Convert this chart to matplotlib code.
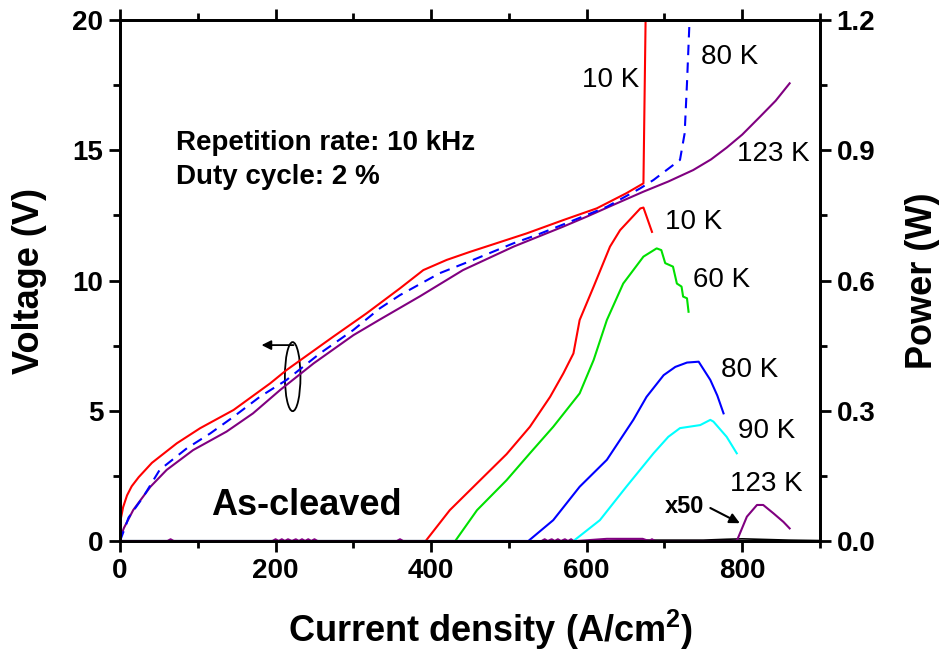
import matplotlib.pyplot as plt
from matplotlib.patches import Ellipse
from matplotlib.ticker import MultipleLocator, FormatStrFormatter

plt.rcParams['font.family'] = ['Liberation Sans', 'DejaVu Sans']
plt.rcParams['mathtext.fontset'] = 'custom'
plt.rcParams['mathtext.bf'] = 'Liberation Sans:bold'

# voltage vs current density (left axis)
v10_j = [0, 4, 9, 15, 24, 41, 73, 103, 146, 193, 214, 274, 317, 360, 390, 420, 450, 484, 523, 570, 613, 651, 673, 676]
v10_v = [0.7, 1.3, 1.75, 2.1, 2.45, 3.0, 3.75, 4.33, 5.03, 6.05, 6.56, 7.84, 8.74, 9.70, 10.4, 10.79, 11.1, 11.43, 11.81, 12.32, 12.77, 13.35, 13.73, 20.5]

v80_j = [0, 5, 11, 30, 51, 86, 116, 146, 180, 214, 257, 300, 334, 360, 411, 454, 506, 536, 574, 626, 669, 686, 720, 726, 729, 733]
v80_v = [0.0, 0.4, 0.9, 1.7, 2.73, 3.56, 4.13, 4.77, 5.54, 6.18, 7.2, 8.1, 8.93, 9.44, 10.28, 10.79, 11.43, 11.75, 12.2, 12.83, 13.54, 13.86, 14.63, 15.65, 17.57, 20.5]

v123_j = [0, 5, 17, 39, 60, 94, 137, 171, 206, 249, 300, 334, 360, 386, 441, 506, 570, 600, 634, 673, 705, 737, 760, 780, 800, 823, 843, 861]
v123_v = [0.1, 0.5, 1.19, 2.08, 2.73, 3.49, 4.2, 4.9, 5.8, 6.82, 7.9, 8.5, 8.95, 9.4, 10.4, 11.3, 12.07, 12.45, 12.9, 13.41, 13.8, 14.24, 14.65, 15.1, 15.6, 16.29, 16.9, 17.57]

# output power vs current density (right axis)
p10_j = [0, 393, 424, 463, 497, 527, 553, 570, 583, 591, 609, 630, 643, 669, 673, 684]
p10_p = [0, 0, 0.071, 0.14, 0.20, 0.263, 0.332, 0.386, 0.432, 0.509, 0.586, 0.678, 0.716, 0.766, 0.768, 0.712]

p60_j = [0, 431, 459, 497, 527, 557, 591, 609, 626, 647, 673, 690, 696, 701, 711, 716, 722, 724, 729, 731]
p60_p = [0, 0, 0.071, 0.14, 0.202, 0.263, 0.34, 0.417, 0.509, 0.593, 0.655, 0.674, 0.67, 0.64, 0.632, 0.593, 0.586, 0.563, 0.559, 0.528]

p80_j = [0, 525, 557, 591, 626, 660, 677, 699, 714, 729, 744, 759, 768, 776]
p80_p = [0, 0, 0.048, 0.125, 0.187, 0.279, 0.332, 0.382, 0.401, 0.411, 0.413, 0.371, 0.335, 0.294]

p90_j = [0, 583, 617, 651, 686, 705, 720, 746, 759, 763, 780, 793]
p90_p = [0, 0, 0.048, 0.125, 0.202, 0.24, 0.26, 0.267, 0.279, 0.275, 0.24, 0.202]

# 123 K, raw and multiplied by 50
p123raw_j = [620, 640, 700, 750, 780, 800, 820, 860, 900]
p123raw_p = [0, 0.002, 0.002, 0.002, 0.004, 0.005, 0.004, 0.002, 0.001]

p123_j = [0, 61, 65, 69, 196, 200, 204, 208, 212, 216, 221, 226, 230, 234, 238, 242, 246, 250, 254, 258,
          356, 360, 364, 542, 546, 550, 555, 559, 563, 567, 572, 576, 580, 583, 587, 626, 632, 666, 672,
          680, 684, 688, 793, 806, 819, 827, 840, 853, 861]
p123_p = [0, 0, 0.004, 0, 0, 0.004, 0, 0.004, 0, 0.004, 0, 0.004, 0, 0.004, 0, 0.004, 0, 0.004, 0, 0,
          0, 0.004, 0, 0, 0.004, 0, 0.004, 0, 0.004, 0, 0.004, 0, 0.004, 0, 0, 0.005, 0.005, 0.005, 0.005,
          0, 0.004, 0, 0, 0.056, 0.083, 0.083, 0.064, 0.044, 0.029]

fig = plt.figure(figsize=(9.45, 6.56), dpi=100)
ax = fig.add_axes([0.127, 0.1753, 0.7407, 0.7942])
ax2 = ax.twinx()

lw = 1.5
ax.plot(v123_j, v123_v, color='#800080', lw=lw)
ax.plot(v80_j, v80_v, color='#0000ff', lw=lw, ls=(0, (5, 3.5)))
ax.plot(v10_j, v10_v, color='#ff0000', lw=lw)

ax2.plot(p10_j, p10_p, color='#ff0000', lw=lw)
ax2.plot(p60_j, p60_p, color='#00e000', lw=lw)
ax2.plot(p80_j, p80_p, color='#0000ff', lw=lw)
ax2.plot(p90_j, p90_p, color='#00ffff', lw=lw)
ax2.plot(p123raw_j, p123raw_p, color='black', lw=1.2)
ax2.plot(p123_j, p123_p, color='#800080', lw=lw)

ax.set_xlim(0, 900)
ax.set_ylim(0, 20)
ax2.set_ylim(0, 1.2)

ax.xaxis.set_major_locator(MultipleLocator(200))
ax.xaxis.set_minor_locator(MultipleLocator(100))
ax.yaxis.set_major_locator(MultipleLocator(5))
ax.yaxis.set_minor_locator(MultipleLocator(2.5))
ax2.yaxis.set_major_locator(MultipleLocator(0.3))
ax2.yaxis.set_minor_locator(MultipleLocator(0.15))
ax2.yaxis.set_major_formatter(FormatStrFormatter('%.1f'))

for a in (ax, ax2):
    for s in a.spines.values():
        s.set_linewidth(2)
ax.tick_params(which='both', direction='out', width=2, top=True, labelsize=20, pad=4)
ax.tick_params(which='major', length=8)
ax.tick_params(which='minor', length=5)
ax2.tick_params(which='both', direction='out', width=2, labelsize=20, pad=4)
ax2.tick_params(which='major', length=8)
ax2.tick_params(which='minor', length=5)
for lab in ax.get_xticklabels() + ax.get_yticklabels() + ax2.get_yticklabels():
    lab.set_fontweight('bold')

ax.set_xlabel('Current density (A/cm$^\\mathbf{2}$)', fontsize=26, fontweight='bold')
ax.set_ylabel('Voltage (V)', fontsize=26, fontweight='bold')
ax2.set_ylabel('Power (W)', fontsize=26, fontweight='bold')
ax.xaxis.set_label_coords(0.53, -0.128)
ax.yaxis.set_label_coords(-0.105, 0.5)
ax2.yaxis.set_label_coords(1.122, 0.5)

# temperature labels
kw = dict(fontsize=20, ha='center', va='center')
ax.text(631, 17.7, '10 K', **kw)
ax.text(784, 18.58, '80 K', **kw)
ax.text(840, 14.86, '123 K', **kw)
ax.text(737, 12.25, '10 K', **kw)
ax.text(774, 10.02, '60 K', **kw)
ax.text(809, 6.56, '80 K', **kw)
ax.text(831, 4.22, '90 K', **kw)
ax.text(831, 2.19, '123 K', **kw)

ax.text(72, 15.0, 'Repetition rate: 10 kHz', fontsize=20, fontweight='bold')
ax.text(72, 13.7, 'Duty cycle: 2 %', fontsize=20, fontweight='bold')
ax.text(240, 1.35, 'As-cleaved', fontsize=26, fontweight='bold', ha='center', va='center')

ax2.text(726, 0.079, 'x50', fontsize=17, fontweight='bold', ha='center', va='center')
ax2.annotate('', xy=(797, 0.041), xytext=(759, 0.076),
             arrowprops=dict(arrowstyle='-|>', color='black', lw=1.5, shrinkA=0, shrinkB=0,
                             mutation_scale=15))

# marker for the voltage curves
ax.add_patch(Ellipse((222, 6.31), 20, 2.65, fill=False, lw=1.3, ec='black'))
ax.annotate('', xy=(182, 7.52), xytext=(223, 7.52),
            arrowprops=dict(arrowstyle='-|>', color='black', lw=1.3, shrinkA=0, shrinkB=0,
                            mutation_scale=14))

fig.savefig('out.png', dpi=100)
